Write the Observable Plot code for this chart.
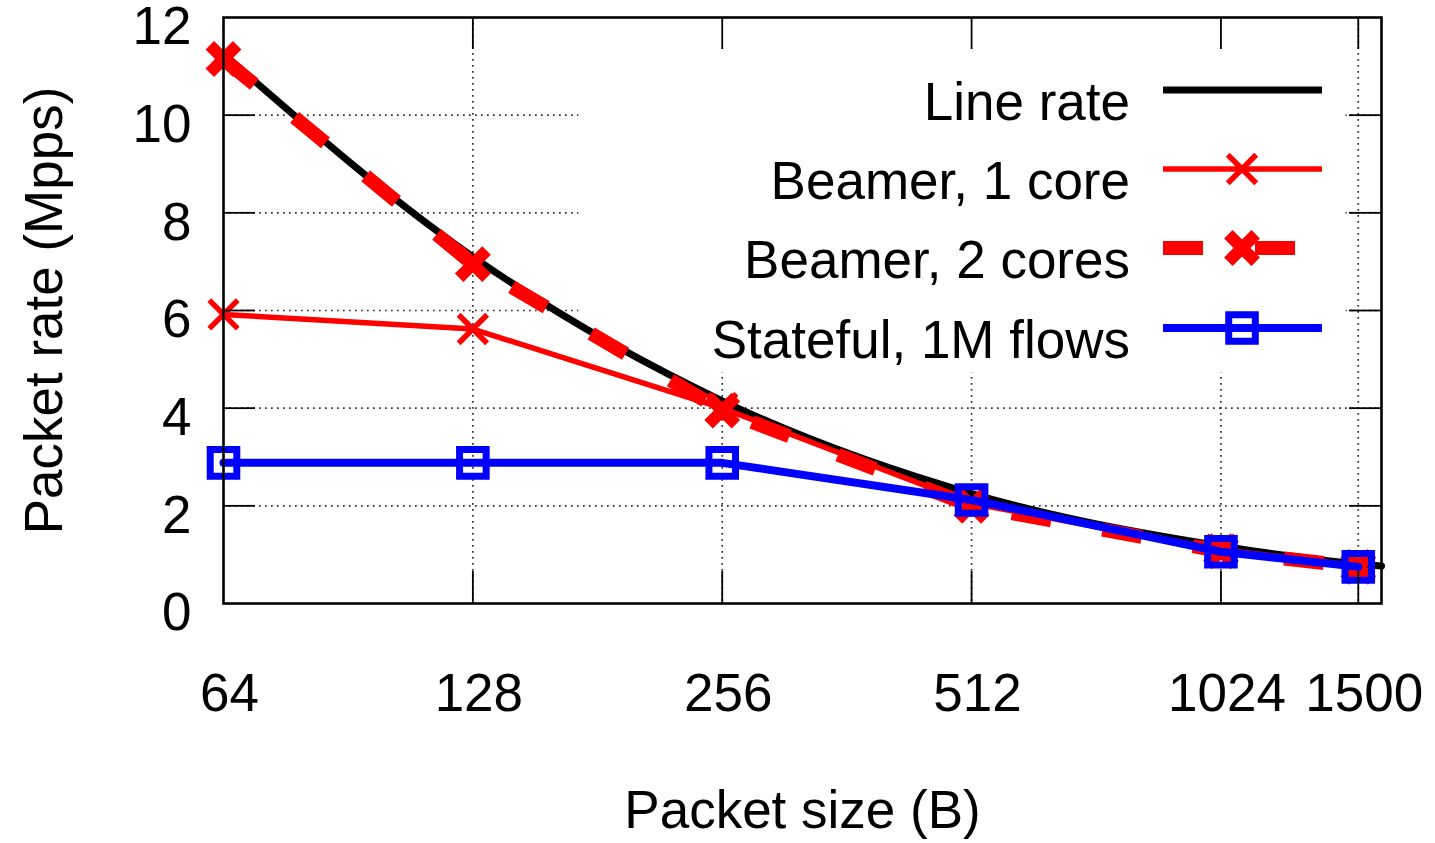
<!DOCTYPE html>
<html>
<head>
<meta charset="utf-8">
<script src="https://cdn.jsdelivr.net/npm/d3@7"></script>
<script src="https://cdn.jsdelivr.net/npm/@observablehq/plot@0.6"></script>
<style>
  html, body { margin: 0; padding: 0; background: #fff; }
  #chart { width: 1435px; height: 843px; }
</style>
</head>
<body>
<div id="chart"></div>
<script>
// ---- data ----
const packetSizes = [64, 128, 256, 512, 1024, 1500];
const lineRateSizes = [64, 128, 256, 512, 1024, 1500, 1600];
const lineRate = [11.25, 7.1, 4.15, 2.25, 1.18, 0.81, 0.77];
const beamer1Core = [5.92, 5.62, 4.0, 2.05, 1.1, 0.77];
const beamer2Cores = [11.15, 6.95, 3.95, 2.0, 1.07, 0.75];
const stateful1M = [2.88, 2.88, 2.88, 2.12, 1.06, 0.75];
const xTicks = [64, 128, 256, 512, 1024, 1500];
const yTicks = [0, 2, 4, 6, 8, 10, 12];
const seriesNames = ["Line rate", "Beamer, 1 core", "Beamer, 2 cores", "Stateful, 1M flows"];
const seriesColors = ["#000000", "#ff0000", "#ff0000", "#0000ff"];

const lrData = lineRateSizes.map((s, i) => ({size: s, rate: lineRate[i]}));
const b1Data = packetSizes.map((s, i) => ({size: s, rate: beamer1Core[i]}));
const b2Data = packetSizes.map((s, i) => ({size: s, rate: beamer2Cores[i]}));
const stData = packetSizes.map((s, i) => ({size: s, rate: stateful1M[i]}));

const W = 1435, H = 843;
const mL = 223, mR = 54, mT = 17, mB = 240;
const frameW = W - mL - mR, frameH = H - mT - mB;
const FONT = "'Liberation Sans', Arial, Helvetica, sans-serif";
const FS = 53;
const tickLen = 32;

const gridStyle = {stroke: "#333", strokeWidth: 1.7, strokeDasharray: "1.7,4.3"};

const plot = Plot.plot({
  width: W,
  height: H,
  marginLeft: mL,
  marginRight: mR,
  marginTop: mT,
  marginBottom: mB,
  style: {background: "#fff", fontFamily: FONT, overflow: "visible"},
  x: {type: "log", base: 2, domain: [64, 1600], axis: null},
  y: {domain: [0, 12], axis: null},
  marks: [
    // grid
    Plot.ruleY(yTicks.slice(1, -1), {y: d => d, ...gridStyle}),
    Plot.ruleX(xTicks.slice(1), {x: d => d, ...gridStyle}),
    // legend background box
    Plot.frame({fill: "#fff", stroke: null, insetLeft: 355, insetTop: 2, insetRight: 36, insetBottom: 231}),
    // data
    Plot.line(lrData, {x: "size", y: "rate", stroke: seriesColors[0], strokeWidth: 7, curve: "monotone-x"}),
    Plot.line(b1Data, {x: "size", y: "rate", stroke: seriesColors[1], strokeWidth: 5.5}),
    Plot.dot(b1Data, {x: "size", y: "rate", symbol: "times", r: 13, stroke: seriesColors[1], strokeWidth: 5.5}),
    Plot.line(b2Data, {x: "size", y: "rate", stroke: seriesColors[2], strokeWidth: 14, strokeDasharray: "40,52", strokeLinecap: "butt"}),
    Plot.dot(b2Data, {x: "size", y: "rate", symbol: "times", r: 12.5, stroke: seriesColors[2], strokeWidth: 12}),
    Plot.line(stData, {x: "size", y: "rate", stroke: seriesColors[3], strokeWidth: 8}),
    Plot.dot(stData, {x: "size", y: "rate", symbol: "square", r: 15, stroke: seriesColors[3], strokeWidth: 7, fill: "none"}),
    // ticks (inward, mirrored)
    Plot.ruleX(xTicks.slice(1), {x: d => d, stroke: "#000", strokeWidth: 1.8, insetTop: frameH - tickLen}),
    Plot.ruleX(xTicks.slice(1), {x: d => d, stroke: "#000", strokeWidth: 1.8, insetBottom: frameH - tickLen}),
    Plot.ruleY(yTicks.slice(1, -1), {y: d => d, stroke: "#000", strokeWidth: 1.8, insetRight: frameW - tickLen}),
    Plot.ruleY(yTicks.slice(1, -1), {y: d => d, stroke: "#000", strokeWidth: 1.8, insetLeft: frameW - tickLen}),
    Plot.frame({stroke: "#000", strokeWidth: 2.6}),
    // tick labels
    Plot.text(xTicks, {x: d => d, text: d => String(d), frameAnchor: "bottom", dy: 91, dx: 6, fontSize: FS, fill: "#000", textAnchor: "middle", lineAnchor: "middle"}),
    Plot.text(yTicks, {y: d => d, text: d => String(d), frameAnchor: "left", dx: -32, dy: 10, fontSize: FS, fill: "#000", textAnchor: "end", lineAnchor: "middle"}),
    // axis titles
    Plot.text(["Packet size (B)"], {text: d => d, frameAnchor: "bottom", dy: 208, fontSize: FS, fill: "#000", textAnchor: "middle", lineAnchor: "middle"}),
    Plot.text(["Packet rate (Mpps)"], {text: d => d, frameAnchor: "left", dx: -178, rotate: -90, fontSize: FS, fill: "#000", textAnchor: "middle", lineAnchor: "middle"})
  ]
});

document.getElementById("chart").appendChild(plot);

// ---- legend (top right, inside frame) ----
const svg = d3.select(plot);
const leg = svg.append("g").attr("font-family", FONT).attr("font-size", FS);
const textRight = 1130, sx1 = 1163, sx2 = 1322, mx = 1242;
const rowY = [90, 169, 248, 328];
seriesNames.forEach((name, i) => {
  const y = rowY[i];
  leg.append("text").attr("x", textRight).attr("y", y + 30).attr("text-anchor", "end").attr("fill", "#000").text(name);
  const ln = leg.append("line").attr("x1", sx1).attr("x2", i === 2 ? 1296 : sx2).attr("y1", y).attr("y2", y)
    .attr("stroke", seriesColors[i]);
  if (i === 0) ln.attr("stroke-width", 7);
  if (i === 1) ln.attr("stroke-width", 5.5);
  if (i === 2) ln.attr("stroke-width", 14).attr("stroke-dasharray", "40,52");
  if (i === 3) ln.attr("stroke-width", 8);
  if (i === 1 || i === 2) {
    const r = i === 1 ? 13 : 12.5;
    leg.append("path").attr("transform", `translate(${mx},${y})`)
      .attr("d", d3.symbol(d3.symbolTimes, Math.PI * r * r)())
      .attr("fill", "none").attr("stroke", seriesColors[i]).attr("stroke-width", i === 1 ? 5.5 : 12);
  }
  if (i === 3) {
    leg.append("path").attr("transform", `translate(${mx},${y})`)
      .attr("d", d3.symbol(d3.symbolSquare, Math.PI * 15 * 15)())
      .attr("fill", "none").attr("stroke", seriesColors[i]).attr("stroke-width", 7);
  }
});
</script>
</body>
</html>
